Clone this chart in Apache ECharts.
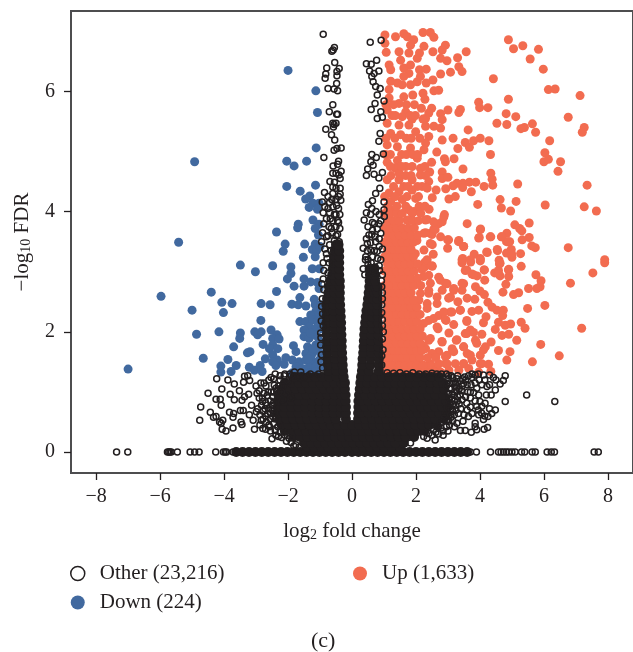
<!DOCTYPE html>
<html><head><meta charset="utf-8">
<style>html,body{margin:0;padding:0;background:#fff}#c{width:633px;height:652px}</style>
<script src="https://cdn.jsdelivr.net/npm/echarts@6/dist/echarts.min.js"></script>
</head><body><div id="c"></div>
<script>
const xTicks=[-8,-6,-4,-2,0,2,4,6,8];
const yTicks=[0,2,4,6];
const legendOther='Other (23,216)',legendDown='Down (224)',legendUp='Up (1,633)';

const downPoints=[[-2,6.35],[-1.13,6.01],[-1.08,5.65],[-1.12,5.06],[-4.92,4.83],[-2.04,4.84],[-1.81,4.76],[-1.42,4.84],[-2.04,4.42],[-1.14,4.44],[-1.62,4.34],[-1.32,4.26],[-1.45,4.21],[-1.22,4.14],[-1.03,4.14],[-1.34,4.07],[-1.08,4.04],[-1.22,3.86],[-1.03,3.79],[-1.68,3.79],[-1.7,3.73],[-1.15,3.72],[-2.36,3.66],[-1.05,3.61],[-5.42,3.49],[-2.09,3.46],[-1.48,3.46],[-1.15,3.46],[-2.15,3.34],[-1.24,3.37],[-1.1,3.36],[-1.52,3.24],[-1.15,3.25],
[-3.49,3.11],[-2.48,3.1],[-1.91,3.08],[-3.02,3],[-1.91,2.97],[-2.02,2.88],[-1.24,3.05],[-1.5,2.88],[-1.81,2.76],[-1.5,2.76],[-1.29,2.83],[-1.08,2.82],[-1.03,2.72],[-2.36,2.67],[-4.4,2.66],[-5.97,2.59],[-4.07,2.49],[-3.75,2.47],[-2.84,2.47],[-2.56,2.45],[-1.88,2.46],[-1.63,2.57],[-1.68,2.45],[-1.44,2.43],[-1.18,2.54],[-1.15,2.45],[-5,2.36],[-4.02,2.32],[-1.13,2.34],[-1.29,2.28],[-1.03,2.28],[-2.85,2.19],[-1.63,2.17],[-1.44,2.17],[-1.23,2.2],[-1.08,2.17],[-2.53,2.03],[-1.34,2.09],[-1.13,2.06],[-1.5,2.03],[-4.86,1.96],[-4.16,2],[-3.49,1.98],[-3.04,2],[-2.95,1.95],[-2.84,2],[-3.51,1.89],[-2.34,1.95],[-2.48,1.89],[-2.28,1.88],[-1.5,1.92],[-1.34,1.89],[-1.08,1.92],[-2.78,1.79],[-3.7,1.75],[-1.83,1.77],[-1.39,1.75],[-1.13,1.78],[-0.97,1.78],[-2.48,1.78],[-2.58,1.72],[-2.32,1.72],[-3.19,1.67],[-3.27,1.65],[-1.75,1.67],[-1.44,1.64],[-1.24,1.64],[-0.98,1.64],[-4.65,1.56],[-3.88,1.54],[-2.48,1.62],[-2.71,1.55],[-2.33,1.53],[-2.48,1.5],[-2.07,1.57],[-3.62,1.44],[-4.1,1.43],[-3.78,1.34],[-4.1,1.33],[-7,1.38],[-3.21,1.41],[-3.05,1.36],[-2.87,1.44],[-2.81,1.34],[-2.38,1.44],[-2.12,1.46],[-1.86,1.53],[-1.65,1.5],[-1.44,1.53],[-1.24,1.5],[-1.03,1.53],[-1.75,1.42],[-1.55,1.39],[-1.34,1.42],[-1.13,1.42],[-0.93,1.42],[-1.86,1.32],[-1.55,1.31],[-1.34,1.31],[-1.13,1.34],[-1.28,1.6],[-1.1,1.7],[-0.95,2.05],[-1.2,1.95],[-0.98,2.45],[-1.02,3.05],[-1,3.42],[-1.3,1.98],[-1.22,1.72],[-1.02,1.85],[-1.38,1.55],[-1.02,2.15]];

const upPoints=[[1.03,6.94],[1.36,6.91],[1.62,6.96],[1.73,6.91],[1.93,6.86],[2.22,6.98],[2.45,6.98],[2.56,6.9],[1.03,6.8],[1.83,6.77],[2.25,6.75],[2.92,6.77],[4.89,6.86],[5.34,6.76],[5.05,6.71],[5.83,6.7],[5.57,6.54],[5.98,6.37],[1.07,6.65],[1.47,6.66],[1.78,6.64],[2.11,6.64],[2.53,6.66],[2.82,6.69],[3.57,6.66],[1.52,6.52],[2.04,6.55],[2.77,6.55],[2.97,6.51],[3.3,6.56],[1.16,6.44],[1.21,6.36],[1.62,6.39],[1.83,6.44],[1.78,6.3],[1.62,6.25],[2.11,6.36],[2.32,6.37],[3.34,6.41],[3.44,6.33],[2.77,6.29],[3.08,6.32],[4.42,6.21],[6.14,6.03],[6.35,6.04],[7.13,5.93],[1.21,6.17],[1.42,6.14],[1.57,6.11],[1.83,6.11],[2.04,6.16],[2.14,6.25],[2.32,6.14],[2.53,6.19],[1.16,6.03],[1.62,5.91],[1.9,5.94],[2.22,5.97],[2.56,6.01],[2.71,6.02],[1.16,5.89],[1.47,5.8],[2.28,5.87],[2.17,5.72],[2.49,5.72],[3,5.69],[3.39,5.7],[3.34,5.65],[3.96,5.82],[3.99,5.73],[4.25,5.73],[4.89,5.87],[4.82,5.63],[5.12,5.58],[6.76,5.57],[4.53,5.47],[4.84,5.45],[5.64,5.46],[5.39,5.4],[5.28,5.38],[5.74,5.32],[7.26,5.4],[7.2,5.32],[1.1,5.69],[1.68,5.66],[1.57,5.58],[2.4,5.64],[2.77,5.63],[2.3,5.55],[1.88,5.54],[2.82,5.53],[2.22,5.54],[1.1,5.47],[1.47,5.44],[1.78,5.44],[2.3,5.42],[2.56,5.42],[2.77,5.39],[3.63,5.36],[1.21,5.3],[1.52,5.28],[1.99,5.33],[2.4,5.25],[2.82,5.19],[3.16,5.22],[3.54,5.15],[3.8,5.18],[4.01,5.22],[4.28,5.18],[6.18,5.18],[6.03,4.98],[3.67,5.07],[3.31,5.05],[1.1,5.11],[1.42,5.08],[1.83,5.06],[2.3,5.14],[2.25,5.03],[2.65,4.99],[4.33,4.95],[6,4.83],[6.14,4.87],[6.52,4.83],[6.44,4.67],[1.1,4.82],[1.42,4.85],[2.04,4.89],[2.49,4.82],[2.89,4.88],[2.92,4.83],[3.19,4.88],[3.47,4.71],[1.36,4.72],[1.68,4.75],[1.88,4.75],[2.14,4.72],[1.47,4.64],[2.14,4.61],[2.43,4.66],[2.82,4.66],[4.34,4.64],[2.82,4.55],[3,4.57],[1.1,4.53],[1.47,4.53],[1.88,4.53],[2.4,4.5],[4.38,4.54],[4.4,4.44],[5.18,4.46],[7.35,4.44],[3.67,4.49],[3.87,4.49],[3.47,4.47],[3.28,4.47],[3.16,4.43],[3.46,4.4],[4.13,4.42],[2.93,4.38],[3.73,4.33],[1.16,4.31],[1.47,4.33],[1.88,4.36],[2.19,4.42],[2.63,4.36],[2.35,4.39],[1.21,4.17],[1.57,4.2],[1.99,4.22],[2.51,4.23],[3.03,4.21],[3.23,4.25],[4.63,4.2],[5.13,4.17],[3.93,4.12],[6.04,4.11],[7.26,4.08],[7.64,4.01],[4.67,4.06],[4.96,4.01],[2.41,4.04],[1.26,4.03],[1.78,4.03],[1.94,4],[2.89,3.95],[2.35,3.87],[2.71,3.8],[2.82,3.83],[3.6,3.8],[5.54,3.81],[5.09,3.78],[5.24,3.72],[5.31,3.68],[4.02,3.71],[3.98,3.57],[4.34,3.58],[4.84,3.64],[4.67,3.58],[4.83,3.5],[4.93,3.5],[5.54,3.57],[5.32,3.53],[5.62,3.43],[5.73,3.4],[6.76,3.4],[2.25,3.64],[2.45,3.64],[2.56,3.71],[2.77,3.58],[2.99,3.53],[3.34,3.52],[2.99,3.39],[3.49,3.42],[2.25,3.36],[2.51,3.45],[2.54,3.29],[4.23,3.32],[4.55,3.35],[4.98,3.37],[4.83,3.31],[5.27,3.3],[3.82,3.29],[3.46,3.22],[4.01,3.22],[7.9,3.2],[5,3.24],[4.6,3.19],
[2.28,3.16],[3.44,3.15],[3.71,3.16],[4.01,3.18],[4.61,3.13],[5.29,3.09],[4.9,3.04],[7.9,3.15],[7.53,2.98],[6.83,2.81],[5.75,2.95],[5.91,2.85],[5.88,2.75],[5.78,2.72],[5.52,2.72],[5.21,2.65],[5.05,2.62],[4.72,2.66],[4.81,2.79],[4.9,2.92],[4.58,3.02],[4.46,2.98],[4.63,2.93],[4.13,3.03],[4.15,2.86],[3.91,2.93],[3.75,2.96],[3.54,3.02],[3.49,2.8],[3.86,2.75],[4,2.68],[4.14,2.62],[3.44,2.69],[2.51,3.09],[2.28,3.08],[2.4,2.94],[2.71,2.91],[2.97,2.8],[2.82,2.69],[3.18,2.69],[3.08,2.58],[2.4,2.64],[3.6,2.56],[3.84,2.54],[3.31,2.5],[2.35,2.47],[4.25,2.49],[4.38,2.41],[4.53,2.36],[4.73,2.36],[5.49,2.39],[6.03,2.44],[4.71,2.27],[3.96,2.36],[3.75,2.34],[3.39,2.36],[3.08,2.33],[2.71,2.27],[4.19,2.25],[3.59,2.17],[4.11,2.15],[2.94,2.19],[2.4,2.19],[4.58,2.16],[5.29,2.16],[4.96,2.13],[5.41,2.06],[7.18,2.06],[4.79,2.11],[4.48,2.04],[4.69,1.94],[4.9,1.96],[3.7,2.03],[3.54,1.97],[3.03,1.98],[2.69,2.05],[5.15,1.86],[4.35,1.83],[4.06,1.96],[3.26,1.86],[2.82,1.83],[5.9,1.79],[3.49,1.75],[3.86,1.86],[4.17,1.75],[4.58,1.69],[4.94,1.67],[6.48,1.6],[3.6,1.64],[3.13,1.72],[2.97,1.61],[4.01,1.61],[4.84,1.53],[5.64,1.5],[4.27,1.46],[4.34,1.34],[4.06,1.47],[3.75,1.53],[3.49,1.47],[3.23,1.47],[2.92,1.47],[2.66,1.42],[2.45,1.39],[3.34,1.36],[3.03,1.36],[3.96,1.33],[3.65,1.39],[2.77,1.33],[2.45,1.47],[2.3,1.72],[2.4,1.86],
[1.93,2.86],[2.24,2.92],[2.45,2.81],[2.76,2.86],[2.92,2.81],[3.18,2.72],[3.44,2.81],[2.14,2.64],[2.4,2.69],[2.66,2.58],[3.02,2.56],[2.09,2.53],[2.35,2.39],[2.66,2.47],[2.87,2.33],[3.12,2.33],[3.38,2.36],[3.59,2.19],[2.55,2.22],[2.24,2.14],[2.66,2.08],[2.92,2.2],[3.18,2.12],[2.45,1.89],[2.81,1.84],[2.71,1.67],[2.92,1.59],[3.28,1.87],[3.18,1.67],[3.59,1.97],[3.8,1.99],[3.49,1.75],[3.9,1.81],[4.11,1.7],[3.7,1.61],[3.49,1.47],[2.97,1.47],[2.5,1.64],[2.4,1.45],[2.71,1.47],[2.24,1.76],[4.01,1.47],[2.35,3.2],[2.19,3.04],[2.5,3.1],[1.98,3.3],[2.45,3.47],[2.5,3.62],[2.6,3.7],[2.3,3.65],[2.03,3.52],[1.88,3.97],[1.72,3.86],[2.3,3.86],[2.55,3.83],[2.87,3.91],[3.02,3.53],[3.33,3.5],[3.49,3.42],[3.44,3.2],[3.7,3.2],[4.01,3.2],[3.59,3.03],[3.8,2.95],[4.01,3.7],[3.96,3.56],[4.32,3.58],[4.68,3.58],[4.89,3.5],[4.21,3.33],[4.54,3.37],[4.99,3.3],[4.63,3.14],[4.89,3.03],[4.58,2.97],[4.14,3.03]];

const upDenseRows=[
[1.33,[1.02,1.2,1.39,1.57,1.76,1.94,2.13,2.31,2.58]],
[1.45,[1.11,1.29,1.48,1.66,1.85,2.03,2.22]],
[1.57,[1.02,1.2,1.39,1.57,1.76,1.94,2.13,2.36,2.62]],
[1.69,[1.11,1.29,1.48,1.66,1.85,2.03,2.18]],
[1.81,[1.02,1.2,1.39,1.57,1.76,1.94,2.13]],
[1.93,[1.11,1.29,1.48,1.66,1.85,2.03,2.2]],
[2.05,[1.02,1.2,1.39,1.57,1.76,1.94,2.13]],
[2.17,[1.11,1.29,1.48,1.66,1.85,2.03]],
[2.29,[1.02,1.2,1.39,1.57,1.76,1.94,2.13]],
[2.41,[1.11,1.29,1.48,1.66,1.85,2.03]],
[2.53,[1.02,1.2,1.39,1.57,1.76,1.92]],
[2.65,[1.11,1.29,1.48,1.66,1.85]],
[2.77,[1.02,1.2,1.39,1.57,1.76,1.94,2.15]],
[2.89,[1.11,1.29,1.48,1.66,1.85,2.05]],
[3.01,[1.02,1.2,1.39,1.57,1.76,1.95]],
[3.13,[1.11,1.29,1.48,1.66,1.85,2.05]],
[3.25,[1.02,1.2,1.39,1.57,1.76,1.92]],
[3.37,[1.11,1.29,1.48,1.66,1.85]],
[3.49,[1.02,1.2,1.39,1.57,1.76,1.92]],
[3.61,[1.11,1.29,1.48,1.66,1.85,2.05]],
[3.73,[1.02,1.2,1.39,1.57,1.76,1.95]],
[3.85,[1.11,1.29,1.48,1.9,2.08]],
[3.97,[1.02,1.2,1.39,1.57,2.15]],
[4.09,[1.11,1.4,1.68,2.1,2.28]],
[4.25,[1.02,1.35,1.72,2.08]],
[4.42,[1.3,1.62,1.75,2.05]],
[4.6,[1.22,1.68,1.85,2.3]],
[4.75,[1.2,1.55,2.28]],
[4.95,[1.05,1.2,1.55,1.7,1.9,2.05]],
[5.22,[1.06,1.34,1.7,1.85,2.12]],
[5.6,[1.25,1.35,1.82,1.98]],
[5.78,[1.06,1.3,1.7,1.95]]];

const otherPoints=[
[-0.9,6.95],[-0.55,6.73],[-0.59,6.69],[-0.63,6.67],[-0.54,6.48],[-0.79,6.39],[-0.4,6.38],[-0.47,6.33],[-0.82,6.29],[-0.47,6.26],[-0.84,6.22],[-0.48,6.13],[-0.75,6.05],[-0.56,6.04],[-0.45,6.01],[-0.6,5.78],[-0.71,5.66],[-0.48,5.62],[-0.45,5.62],[-0.6,5.47],[-0.56,5.45],[-0.5,5.47],[-0.58,5.41],[-0.82,5.37],[-0.64,5.28],[-0.54,5.19],[-0.34,5.06],[-0.47,5.05],[-0.56,5.02],[-0.88,4.9],[-0.42,4.84],[-0.59,4.76],[-0.45,4.79],[-0.34,4.67],[-0.6,4.64],[-0.5,4.64],[-0.41,4.61],[-0.69,4.5],[-0.55,4.49],[-0.37,4.55],[-0.6,4.41],[-0.5,4.39],[-0.37,4.39],
[-0.86,4.32],[-0.6,4.3],[-0.37,4.29],[-0.35,4.19],[-0.93,4.16],[-0.7,4.15],[-0.5,4.2],[-0.6,4.08],[-0.85,4.08],[-0.42,4.05],[-0.9,3.98],[-0.7,3.98],[-0.55,3.95],[-0.38,3.95],[-0.8,3.88],[-0.6,3.85],[-0.45,3.85],[-0.88,3.8],[-0.72,3.75],[-0.5,3.75],[-0.38,3.72],[-0.92,3.65],[-0.62,3.65],[-0.45,3.62],[-0.8,3.58],[-0.55,3.52],[-0.4,3.5],[-0.95,3.5],[-0.7,3.45],[-0.85,3.38],[-0.78,3.22],[-0.9,3.15],[-0.88,3.02],[-0.75,2.98],[-0.9,2.88],[-0.88,2.7],[-0.93,2.55],[-0.92,2.3],[-0.9,2.1],[-0.97,1.9],[-0.95,1.62],[-0.92,1.4],
[-0.75,3.6],[-0.5,3.6],[-0.65,3.72],[-0.42,3.82],[-0.68,3.88],[-0.5,3.95],[-0.75,4.05],[-0.48,4.1],[-0.63,4.2],[-0.42,4.25],[-0.75,4.25],[-0.8,3.3],[-0.72,3.15],[-0.66,3.35],[-0.94,2.8],[-0.95,2.42],[-0.96,2.18],[-0.98,1.98],[-0.98,1.78],[-0.97,1.5],
[0.57,6.82],[0.91,6.85],[0.77,6.52],[0.45,6.46],[0.6,6.45],[0.84,6.34],[0.55,6.34],[0.69,6.3],[0.62,6.25],[0.66,6.16],[0.74,6.08],[0.88,6.05],[0.79,5.94],[1,5.84],[0.72,5.8],[0.6,5.7],[0.9,5.66],[0.79,5.55],[0.95,5.57],[0.88,5.3],[0.84,5.17],[0.62,4.95],[0.76,4.9],[0.98,4.96],[0.49,4.71],[0.66,4.77],[0.59,4.83],[0.45,4.6],[0.69,4.62],[0.95,4.65],[0.84,4.56],[0.87,4.39],[0.74,4.3],[1,4.16],[0.64,4.18],[0.51,4.12],[1,4.03],[1.01,3.92],[0.38,3.86],[0.64,3.82],[0.84,3.8],[0.64,3.69],[0.79,3.71],[0.53,3.61],[0.9,3.64],[0.48,3.47],[0.74,3.5],[0.95,3.38],[0.35,3.39],[0.59,3.36],[0.79,3.34],[0.43,3.25],[0.64,3.25],[0.9,3.2],[0.5,3.12],[0.72,3.08],[0.86,3.02],[0.35,3.05],[0.92,2.85],[0.95,2.65],[0.93,2.45],[0.95,2.2],[0.98,2],[0.97,1.7],[0.93,1.45],[0.95,2.95],[0.93,2.75],[0.95,2.55],[0.93,2.32],[0.95,2.1],[0.95,1.88],[0.93,1.6],
[0.4,2.95],[0.55,3.02],[0.72,2.98],[0.85,3.1],[0.42,3.2],[0.6,3.15],[0.7,3.35],[0.48,3.35],[0.85,3.42],[0.58,3.48],[0.72,3.58],[0.45,3.55],[0.62,3.62],[0.85,3.55],[0.5,3.75],[0.7,3.8],[0.9,3.85],[0.58,3.95],[0.75,4],[0.45,3.98],[0.62,4.05],[0.85,3.95],[0.5,3.2],[0.8,3.22],[0.66,3.02],
[-4.23,1.22],[-3.88,1.2],[-3.68,1.13],[-3.36,1.26],[-3.26,1.27],[-3.39,1.16],[-3.2,1.19],[-2.53,1.24],[-2.12,1.27],[-2.25,1.2],[-2.69,1.1],[-2.43,1.11],[-2.17,1.09],[-2.38,1.06],[-4.07,1.05],[-3.52,1.02],[-4.5,0.98],[-3.81,0.96],[-3.68,0.87],[-4.25,0.88],[-4.12,0.88],[-3.23,0.96],[-3.36,0.92],[-3.44,0.86],[-2.97,0.98],[-2.8,0.84],[-2.53,1],[-2.48,0.92],[-2.07,0.95],[-1.91,0.9],[-2.17,0.87],[-4.09,0.78],[-4.73,0.75],[-3.14,0.78],[-2.99,0.67],[-2.83,0.78],[-2.72,0.72],[-2.64,0.64],[-2.48,0.59],[-4.43,0.66],[-4.25,0.59],[-4.33,0.58],[-3.83,0.66],[-3.7,0.64],[-3.72,0.58],[-3.49,0.69],[-3.4,0.69],[-3.21,0.62],[-4.04,0.53],[-4.09,0.48],[-4.14,0.5],[-4.76,0.53],[-3.47,0.5],[-3.44,0.46],[-3.09,0.53],[-2.84,0.53],[-2.79,0.39],[-4.06,0.38],[-3.94,0.35],[-3.72,0.4],[-3.05,0.38],[-2.58,0.42],[-2.38,0.28],[-1.97,0.23],[-1.76,0.12],[-2.62,1],[-2.55,0.85],[-2.6,0.72],[-2.5,0.78],[-2.45,1.22],[-2.3,1.1],[-2.55,0.55],[-2.35,1.02],[-2.2,1],[-2.45,0.48],[-2.32,0.42],[-2.25,0.33],[-2.1,0.28],[-1.9,1.27],[-1.7,1.26],[-1.5,1.25],[-2,1.18],
[-2.75,1.15],[-2.6,1.2],[-2.4,1.3],[-2.25,1.27],[-2.1,1.3],[-1.95,1.3],[-1.8,1.33],[-1.6,1.33],[-1.3,1.3],[-1.05,1.3],[-2.75,0.98],[-2.8,0.9],[-2.7,0.82],[-2.78,0.68],[-2.7,0.6],[-2.68,0.5],[-2.6,0.45],[-2.55,0.35],[-2.4,0.36],[-2.3,0.26],[-2.2,0.24],[-2.05,0.18],[-1.9,0.16],[-1.82,0.1],[-1.65,0.08],
[-2.9,1.02],[-2.9,0.9],[-2.95,0.72],[-2.88,0.62],[-2.78,0.55],[-2.88,0.45],[-2.7,0.38],[-2.5,0.22],[-2.85,1.15],[-3,1.1],[-2.65,0.94],[-2.66,0.78],[-2.55,0.65],[-2.48,0.7],[-2.45,0.82],[-2.45,1],[-2.4,0.55],[-2.42,0.65],
[5.46,0.95],[6.34,0.84],[4.79,0.84],[4.79,1.27],[4.73,1.19],[4.63,1.13],[4.42,1.24],[4.11,1.28],[3.85,1.28],[3.64,1.27],[4.48,1.03],[4.35,0.95],[4.22,1.09],[4.06,1.12],[3.9,1.06],[4.48,0.7],[4.37,0.64],[4.25,0.59],[4.11,0.54],[3.96,0.62],[3.75,0.64],[3.64,0.59],[3.85,0.48],[3.85,0.42],[4.24,0.41],[4.13,0.38],[3.9,0.37],[3.73,0.33],[3.54,0.36],[3.39,0.36],[3.47,0.51],[3.28,0.48],[3.33,0.64],[4.06,0.76],[4.16,0.81],[4,0.84],[3.9,0.76],[3.8,0.99],[3.96,0.95],[3.59,0.81],[3.44,0.87],[3.49,1.14],[3.13,1.14],[3.28,1.22],[3.02,0.98],[3.02,0.51],[2.76,0.48],[2.4,0.31],[2.24,0.26],[2.35,0.23],[1.83,0.15],[3.2,1],[3.12,0.88],[3.25,0.78],[3.15,0.68],[3.03,0.75],[3.3,0.92],[3.42,1.02],[3.62,1],[3.72,1.12],[3.75,1.24],[3.98,1.2],[3.52,1.25],[3.6,1.12],[3.1,1.27],[3,1.22],[3.22,1.08],[2.98,0.62],[2.88,0.56],[2.95,1.1],[2.7,0.42],[2.55,0.38],[2.62,0.33],
[2.6,0.2],[2.5,0.28],[2.7,0.3],[2.85,0.35],[2.95,0.42],[3.05,0.45],[3.1,0.58],[3.2,0.62],[3.25,0.7],[3.2,0.85],[3.35,0.8],[3.38,0.95],[3.45,1.1],[3.38,1.18],[3.55,1.2],[3.15,1.24],[2.95,1.3],[2.8,1.3],[2.65,1.3],[2.5,1.31],[2.3,1.3],[2.1,1.3],[1.9,1.32],[1.7,1.3],[1.5,1.32],[1.3,1.31],[1.1,1.32],[3.05,1.15],[3.1,1.05],[3.05,0.9],[3.15,0.8],[3.25,1.15],[3.35,1.05],[3.55,0.92],[3.7,0.9],[3.7,0.75],[3.85,0.85],[3.6,0.7],[3.5,0.62],[3.95,0.7],[4.05,0.65],[4.15,0.6],[4.3,0.72],[4.2,0.95],[4.3,1.12],[4.5,1.2],[4.3,1.28],[4.15,1.2],[3.95,1.3],[3.75,1.3],[3.85,1.15],[3.7,1],[3,0.35],[2.85,0.28],[3.2,0.42],[3.15,0.52],
[3.08,1.05],[3.12,0.95],[3.05,0.82],[3.1,0.72],[3.18,0.95],[3.28,1.02],[3.3,0.85],[3.4,0.72],[3.02,1.27],[3.18,1.15],[3.3,1.27],[3.45,1.22],[3.08,0.62],[2.96,0.52],[2.78,0.4]];

const otherZeroX=[-7.36,-7.01,-5.77,-5.73,-5.69,-5.65,-5.46,-5.06,-4.92,-4.78,-4.26,-4.02,-3.96,-3.92,-3.72,3.7,3.89,4.33,4.58,4.66,4.74,4.82,4.9,5,5.1,5.3,5.4,5.63,5.73,6.1,6.23,6.33,7.57,7.7];

const otherCoreRows=[
[0,[-3.62,-3.42,-3.22,-3.02,-2.82,-2.62,-2.42,-2.22,-2.02,-1.82,-1.62,-1.42,-1.22,-1.02,-0.82,-0.62,-0.42,-0.22,0,0.2,0.4,0.6,0.8,1,1.2,1.4,1.6,1.8,2,2.2,2.4,2.6,2.8,3,3.2,3.4,3.6]],
[0.08,[-1.4,-1.18,-0.96,-0.74,-0.52,-0.3,-0.08,0.14,0.36,0.58,0.8,1.02,1.24,1.5]],
[0.15,[-1.5,-1.28,-1.06,-0.84,-0.62,-0.4,-0.18,0.04,0.26,0.48,0.7,0.92,1.14,1.36,1.62]],
[0.25,[-1.84,-1.62,-1.4,-1.18,-0.96,-0.74,-0.52,-0.3,-0.08,0.14,0.36,0.58,0.8,1.02,1.24,1.46,1.68,1.94]],
[0.35,[-2.1,-1.88,-1.66,-1.44,-1.22,-1,-0.78,-0.56,-0.34,-0.12,0.1,0.32,0.54,0.76,0.98,1.2,1.42,1.64,1.86,2.08,2.27]],
[0.45,[-2.2,-1.98,-1.76,-1.54,-1.32,-1.1,-0.88,-0.66,-0.44,-0.22,0,0.22,0.44,0.66,0.88,1.1,1.32,1.54,1.76,1.98,2.2,2.42,2.65]],
[0.55,[-2.27,-2.05,-1.83,-1.61,-1.39,-1.17,-0.95,-0.73,-0.51,-0.19,0.19,0.41,0.63,0.85,1.07,1.29,1.51,1.73,1.95,2.17,2.39,2.61,2.87]],
[0.65,[-2.33,-2.11,-1.89,-1.67,-1.45,-1.23,-1.01,-0.79,-0.57,-0.35,-0.19,0.19,0.3,0.52,0.74,0.96,1.18,1.4,1.62,1.84,2.06,2.28,2.5,2.72,2.96]],
[0.75,[-2.33,-2.11,-1.89,-1.67,-1.45,-1.23,-1.01,-0.79,-0.57,-0.35,-0.19,0.2,0.41,0.63,0.85,1.07,1.29,1.51,1.73,1.95,2.17,2.39,2.61,2.83,3]],
[0.85,[-2.33,-2.11,-1.89,-1.67,-1.45,-1.23,-1.01,-0.79,-0.57,-0.35,-0.2,0.2,0.3,0.52,0.74,0.96,1.18,1.4,1.62,1.84,2.06,2.28,2.5,2.72,2.94]],
[0.95,[-2.3,-2.08,-1.86,-1.64,-1.42,-1.2,-0.98,-0.76,-0.54,-0.32,-0.2,0.22,0.41,0.63,0.85,1.07,1.29,1.51,1.73,1.95,2.17,2.39,2.61,2.85]],
[1.05,[-2.2,-1.98,-1.76,-1.54,-1.32,-1.1,-0.88,-0.66,-0.44,-0.22,0.24,0.46,0.68,0.9,1.12,1.34,1.56,1.78,2,2.22,2.44,2.66,2.88]],
[1.15,[-2.1,-1.88,-1.66,-1.44,-1.22,-1,-0.78,-0.56,-0.34,-0.22,0.26,0.48,0.7,0.92,1.14,1.36,1.58,1.8,2.02,2.24,2.46,2.68,2.85]],
[1.25,[-1.8,-1.58,-1.36,-1.14,-0.92,-0.7,-0.48,-0.26,0.28,0.5,0.72,0.94,1.16,1.38,1.6,1.82,2.04,2.26,2.48,2.72]],
[1.35,[-0.74,-0.5,-0.28,0.31,0.53,0.84]],
[1.45,[-0.75,-0.5,-0.29,0.32,0.58,0.84]],
[1.55,[-0.76,-0.52,-0.3,0.33,0.58,0.84]],
[1.65,[-0.77,-0.52,-0.31,0.35,0.6,0.84]],
[1.75,[-0.78,-0.53,-0.32,0.36,0.6,0.83]],
[1.85,[-0.78,-0.54,-0.32,0.37,0.6,0.83]],
[1.95,[-0.79,-0.54,-0.33,0.38,0.6,0.82]],
[2.05,[-0.79,-0.55,-0.34,0.39,0.62,0.82]],
[2.15,[-0.8,-0.56,-0.34,0.41,0.62,0.81]],
[2.25,[-0.8,-0.57,-0.35,0.43,0.63,0.81]],
[2.35,[-0.8,-0.58,-0.36,0.45,0.64,0.8]],
[2.45,[-0.8,-0.58,-0.37,0.48,0.65,0.8]],
[2.55,[-0.78,-0.57,-0.38,0.5,0.66,0.79]],
[2.65,[-0.74,-0.55,-0.38,0.52,0.7,0.8]],
[2.75,[-0.72,-0.54,-0.38,0.54,0.72,0.8]],
[2.85,[-0.68,-0.52,-0.38,0.55,0.72]],
[2.95,[-0.62,-0.4,0.56,0.72]],
[3.05,[-0.6,-0.4,0.55,0.7]],
[3.15,[-0.58,-0.4]],
[3.25,[-0.56,-0.4]],
[3.35,[-0.54,-0.4]],
[3.45,[-0.5,-0.42]]];

const upSeries=upPoints.slice();
upDenseRows.forEach(r=>r[1].forEach(x=>upSeries.push([x,r[0]])));
const otherSeries=otherPoints.concat(otherZeroX.map(x=>[x,0]));
const coreSeries=[];
otherCoreRows.forEach(r=>r[1].forEach(x=>coreSeries.push([x,r[0]])));

const ink='#231f20',axisGrey='#4d4d4f';
const serif='"Liberation Serif"';
const chart=echarts.init(document.getElementById('c'));
const subRich={base:{fontFamily:serif,fontSize:21,color:ink},sub:{fontFamily:serif,fontSize:14,color:ink,padding:[8,0,0,0]}};
chart.setOption({
  animation:false,
  grid:{left:71,top:11,right:-2,bottom:179,show:true,borderColor:axisGrey,borderWidth:2,backgroundColor:'transparent'},
  xAxis:{type:'value',min:-8.785,max:8.785,splitLine:{show:false},
    axisLine:{show:true,onZero:false,lineStyle:{color:axisGrey,width:2}},
    axisTick:{show:true,customValues:xTicks,length:7,lineStyle:{color:ink,width:1.3}},
    axisLabel:{customValues:xTicks,margin:14,fontFamily:serif,fontSize:20,color:ink,formatter:v=>String(v).replace('-','\u2212')},
    name:'{base|log}{sub|2}{base| fold change}',nameLocation:'middle',nameGap:47,nameTextStyle:{rich:subRich}},
  yAxis:{type:'value',min:-0.349,max:7.338,splitLine:{show:false},
    axisLine:{show:true,onZero:false,lineStyle:{color:axisGrey,width:2}},
    axisTick:{show:true,customValues:yTicks,length:7,lineStyle:{color:ink,width:1.3}},
    axisLabel:{customValues:yTicks,margin:16,fontFamily:serif,fontSize:20,color:ink},
    name:'{base|\u2212log}{sub|10}{base| FDR}',nameLocation:'middle',nameGap:38,nameTextStyle:{rich:subRich}},
  legend:[
    {data:[{name:legendOther,icon:'circle',itemStyle:{color:'#fff',borderColor:ink,borderWidth:1.5}},{name:legendDown,icon:'circle'}],orient:'vertical',left:65,top:558,itemWidth:14,itemHeight:14,itemGap:8,textStyle:{fontFamily:serif,fontSize:21,color:ink,padding:[0,0,0,10]}},
    {data:[{name:legendUp,icon:'circle'}],orient:'vertical',left:348,top:558,itemWidth:14,itemHeight:14,textStyle:{fontFamily:serif,fontSize:21,color:ink,padding:[0,0,0,10]}}
  ],
  graphic:[{type:'text',left:311,top:630,style:{text:'(c)',fontFamily:serif,fontSize:22,fill:ink}}],
  series:[
    {name:legendDown,type:'scatter',symbolSize:9,itemStyle:{color:'#41699f',opacity:1},data:downPoints,silent:true,z:2},
    {name:legendUp,type:'scatter',symbolSize:9,itemStyle:{color:'#f26c50',opacity:1},data:upSeries,silent:true,z:2},
    {name:'Other core',type:'scatter',symbolSize:10,itemStyle:{color:ink,opacity:1},data:coreSeries,silent:true,z:3},
    {name:legendOther,type:'scatter',symbolSize:6,itemStyle:{color:'transparent',borderColor:ink,borderWidth:1.5,opacity:1},data:otherSeries,silent:true,z:4}
  ]
});
</script></body></html>
